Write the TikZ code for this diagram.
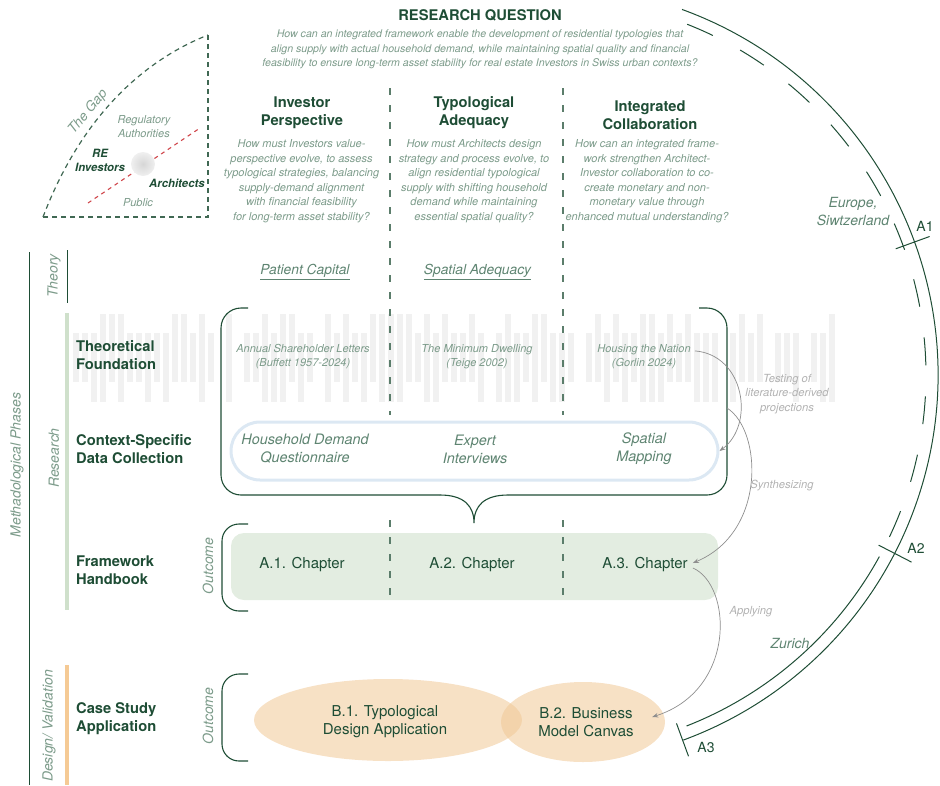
\documentclass[tikz,border=0pt]{standalone}
\usepackage{fontspec}
\setmainfont{TeX Gyre Heros}
\usetikzlibrary{arrows.meta,shapes.geometric}
\definecolor{dkgreen}{HTML}{1E4D35}
\definecolor{qgreen}{HTML}{7C9B8A}
\definecolor{mgreen}{HTML}{5E8471}
\definecolor{lgray}{HTML}{B2B2B2}
\definecolor{agray}{HTML}{8E8E8E}
\definecolor{sepc}{HTML}{5B7D6B}
\definecolor{barc}{HTML}{F1F1F1}
\definecolor{chapfill}{HTML}{E3EDE1}
\definecolor{boxblue}{HTML}{DCE8F3}
\definecolor{gbar}{HTML}{CFE0CB}
\definecolor{obar}{HTML}{F5CA95}
\definecolor{ellc}{HTML}{F0C896}
\definecolor{redd}{HTML}{D0474C}
\newcommand\fsz[2]{\fontsize{#1}{#2}\selectfont}
\begin{document}
\begin{tikzpicture}[x=1pt,y=-1pt,
  hd/.style={font=\fsz{14.7}{18}\bfseries, text=dkgreen, align=center, inner sep=0pt},
  rowlab/.style={font=\fsz{14.7}{18}\bfseries, text=dkgreen, align=left, anchor=west, inner sep=0pt},
  qt/.style={font=\fsz{11}{14.5}\itshape, text=qgreen, align=center, inner sep=0pt},
  bigq/.style={font=\fsz{14.4}{18}\itshape, text=mgreen, align=center, inner sep=0pt},
  side/.style={font=\fsz{14}{16}\itshape, text=qgreen, rotate=90, inner sep=0pt},
  note/.style={font=\fsz{11.2}{14.5}\itshape, text=lgray, align=center, inner sep=0pt},
  chap/.style={font=\fsz{15}{18}, text=dkgreen, align=center},
  sepline/.style={sepc, line width=1.6pt, dash pattern=on 7pt off 10pt},
  bracket/.style={dkgreen, line width=1.1pt},
  garrow/.style={agray, line width=0.7pt, -{Stealth[length=6pt,width=4.5pt]}},
  gapline/.style={dkgreen!85, line width=1.2pt, dash pattern=on 5pt off 4pt},
  arcline/.style={dkgreen, line width=1pt},
  ]
\useasboundingbox (0,0) rectangle (940,785);

% background bars
\pgfmathsetseed{7}
\foreach \i in {0,...,84}{
  \pgfmathsetmacro\xx{73+9*\i}
  \pgfmathrandominteger{\ta}{0}{1}
  \pgfmathrandominteger{\tb}{0}{1}
  \pgfmathrandominteger{\sk}{0}{6}
  \pgfmathsetmacro\yt{\ta==0 ? 314 : 333}
  \pgfmathsetmacro\yb{\tb==0 ? 382 : 402}
  \ifnum\sk>0
    \fill[barc] (\xx,\yt) rectangle (\xx+6,\yb);
  \fi
}

% ---------- The Gap ----------
\coordinate (g1) at (43,217);
\coordinate (g2) at (208,217);
\coordinate (g3) at (208,35);
\draw[gapline] (g1) .. controls (80,120) and (140,62) .. (g3);
\draw[gapline] (g3) -- (g2) -- (g1);
\draw[redd, line width=1.1pt, dash pattern=on 4pt off 4pt] (88,203) -- (200,128);
\shade[inner color=black!16, outer color=black!6] (143,164) circle (12);
\node[font=\fsz{13.5}{16}\itshape, text=qgreen, rotate=50, inner sep=0pt] (gap) at (88,112) {The Gap};
\node[font=\fsz{11}{14}\itshape, text=qgreen, align=center, inner sep=0pt] (reg) at (144,127) {Regulatory\\Authorities};
\node[font=\fsz{11.4}{14}\bfseries\itshape, text=dkgreen, align=center, inner sep=0pt] (rei) at (100,160) {RE\\Investors};
\node[font=\fsz{11.4}{14}\bfseries\itshape, text=dkgreen, inner sep=0pt] (arc) at (177,183) {Architects};
\node[font=\fsz{11}{14}\itshape, text=qgreen, inner sep=0pt] (pub) at (138,203) {Public};

% ---------- Research question ----------
\node[hd] (rqh) at (480,15) {RESEARCH QUESTION};
\node[font=\fsz{10.6}{14.3}\itshape, text=qgreen, align=center, inner sep=0pt] (rq) at (480,49.5)
 {How can an integrated framework enable the development of residential typologies that\\
  align supply with actual household demand, while maintaining spatial quality and financial\\
  feasibility to ensure long-term asset stability for real estate Investors in Swiss urban contexts?};

% ---------- columns ----------
\node[hd] (c1h) at (302,113) {Investor\\Perspective};
\node[hd] (c2h) at (474,112.5) {Typological\\Adequacy};
\node[hd] (c3h) at (650,115.5) {Integrated\\Collaboration};
\node[qt] (c1q) at (301.5,181) {How must Investors value-\\perspective evolve, to assess\\typological strategies, balancing\\supply-demand alignment\\with financial feasibility\\for long-term asset stability?};
\node[qt] (c2q) at (474,181) {How must Architects design\\strategy and process evolve, to\\align residential typological\\supply with shifting household\\demand while maintaining\\essential spatial quality?};
\node[qt] (c3q) at (647,181) {How can an integrated frame-\\work strengthen Architect-\\Investor collaboration to co-\\create monetary and non-\\monetary value through\\enhanced mutual understanding?};

\draw[sepline] (390,88) -- (390,415);
\draw[sepline] (563,88) -- (563,415);

% theory row
\node[font=\fsz{13.8}{16}\itshape, text=mgreen] (pc) at (305,272) {\underline{Patient Capital}};
\node[font=\fsz{13.8}{16}\itshape, text=mgreen] (sa) at (477.5,272) {\underline{Spatial Adequacy}};

% ---------- left side ----------
\draw[dkgreen, line width=1pt] (29,252) -- (29,785);
\draw[dkgreen, line width=1pt] (67,250) -- (67,303);
\fill[gbar] (65,313) rectangle (69,610);
\fill[obar] (65,665) rectangle (69,785);
\node[side] (mp) at (17,465) {Methadological Phases};
\node[side] (th) at (54,276) {Theory};
\node[side] (rs) at (54,458) {Research};
\node[side] (dv) at (49,726) {Design/ Validation};

\node[rowlab] (tf) at (76,355) {Theoretical\\Foundation};
\node[rowlab] (cs) at (76,449) {Context-Specific\\Data Collection};
\node[rowlab] (fh) at (76,570) {Framework\\Handbook};
\node[rowlab] (ca) at (76,719) {Case Study\\Application};

% ---------- research bracket ----------
\draw[bracket, rounded corners=20pt] (248,308) -- (221,308) -- (221,495) -- (440,495);
\draw[bracket] (440,495) .. controls (464,495) and (474,506) .. (474,523)
               .. controls (474,506) and (484,495) .. (508,495);
\draw[bracket, rounded corners=20pt] (508,495) -- (727,495) -- (727,308) -- (699,308);
\coordinate (bR) at (727,408);

\node[qt] (al) at (303,356.5) {Annual Shareholder Letters\\(Buffett 1957-2024)};
\node[qt] (md) at (477,356.5) {The Minimum Dwelling\\(Teige 2002)};
\node[qt] (nation) at (644,356.5) {Housing the Nation\\(Gorlin 2024)};

\node[draw=boxblue, line width=3pt, rounded corners=29pt, minimum width=487pt, minimum height=58pt] (collect) at (474.5,451) {};
\node[bigq] (hd1) at (305,449) {Household Demand\\Questionnaire};
\node[bigq] (ei) at (475,449) {Expert\\Interviews};
\node[bigq] (sm) at (644,449) {Spatial\\Mapping};

% ---------- outcome A ----------
\draw[bracket, rounded corners=17pt] (248,524) -- (222,524) -- (222,611) -- (248,611);
\node[side] (o1) at (208,566) {Outcome};
\node[fill=chapfill, rounded corners=13pt, minimum width=487pt, minimum height=67pt] (chapbox) at (474.5,566.5) {};
\draw[sepline] (390,520) -- (390,605);
\draw[sepline] (563,520) -- (563,605);
\node[chap] (a1) at (302,565) {A.1. Chapter};
\node[chap] (a2) at (472,565) {A.2. Chapter};
\node[chap, inner sep=5pt] (a3) at (645,565) {A.3. Chapter};

% ---------- outcome B ----------
\draw[bracket, rounded corners=17pt] (248,674) -- (222,674) -- (222,761) -- (248,761);
\node[side] (o2) at (208,716) {Outcome};
\node[ellipse, fill=ellc, fill opacity=0.55, text opacity=1, minimum width=268pt, minimum height=82pt, inner sep=0pt] (b1) at (388,720) {};
\node[ellipse, fill=ellc, fill opacity=0.55, text opacity=1, minimum width=164pt, minimum height=80pt, inner sep=0pt] (b2) at (583,722) {};
\node[chap] (b1t) at (385,722) {B.1. Typological\\Design Application};
\node[chap] (b2t) at (586,722) {B.2. Business\\Model Canvas};

% ---------- gray arrows ----------
\draw[garrow] ([shift={(4,7)}]nation.north east) .. controls (745,355) and (755,425) .. (collect.east);
\node[note] (tst) at (787,394) {Testing of\\literature-derived\\projections};
\draw[garrow] (bR) .. controls (762,430) and (767,532) .. ([yshift=2pt]a3.east);
\node[note] (syn) at (782,486) {Synthesizing};
\draw[garrow] ([yshift=-3pt]a3.east) .. controls (732,585) and (737,690) .. ([xshift=-13pt,yshift=5pt]b2.east);
\node[note] (app) at (751,612) {Applying};

% ---------- scale arcs ----------
\coordinate (ctr) at (549,375);
\draw[arcline] (ctr) ++(-70:389) arc[start angle=-70, end angle=69.8, radius=389];
\draw[arcline, dash pattern=on 28pt off 31pt] (ctr) ++(-68.5:377) arc[start angle=-68.5, end angle=27.3, radius=377];
\draw[arcline] (ctr) ++(28.8:377) arc[start angle=28.8, end angle=68.6, radius=377];
\draw[arcline] (ctr) ++(-20:369) -- ++(-20:36);
\draw[arcline] (ctr) ++(27.3:371) -- ++(27.3:37);
\draw[arcline] (ctr) ++(69.9:371) -- ++(69.9:35);
\node[font=\fsz{14}{16}, text=dkgreen] (l1) at (925,226) {A1};
\node[font=\fsz{14}{16}, text=dkgreen] (l2) at (916,548) {A2};
\node[font=\fsz{14}{16}, text=dkgreen] (l3) at (706,747) {A3};
\node[font=\fsz{14}{18}\itshape, text=mgreen, align=center] (eu) at (853,212) {Europe,\\Siwtzerland};
\node[font=\fsz{14}{18}\itshape, text=mgreen] (zu) at (790,643) {Zurich};
\end{tikzpicture}
\end{document}
